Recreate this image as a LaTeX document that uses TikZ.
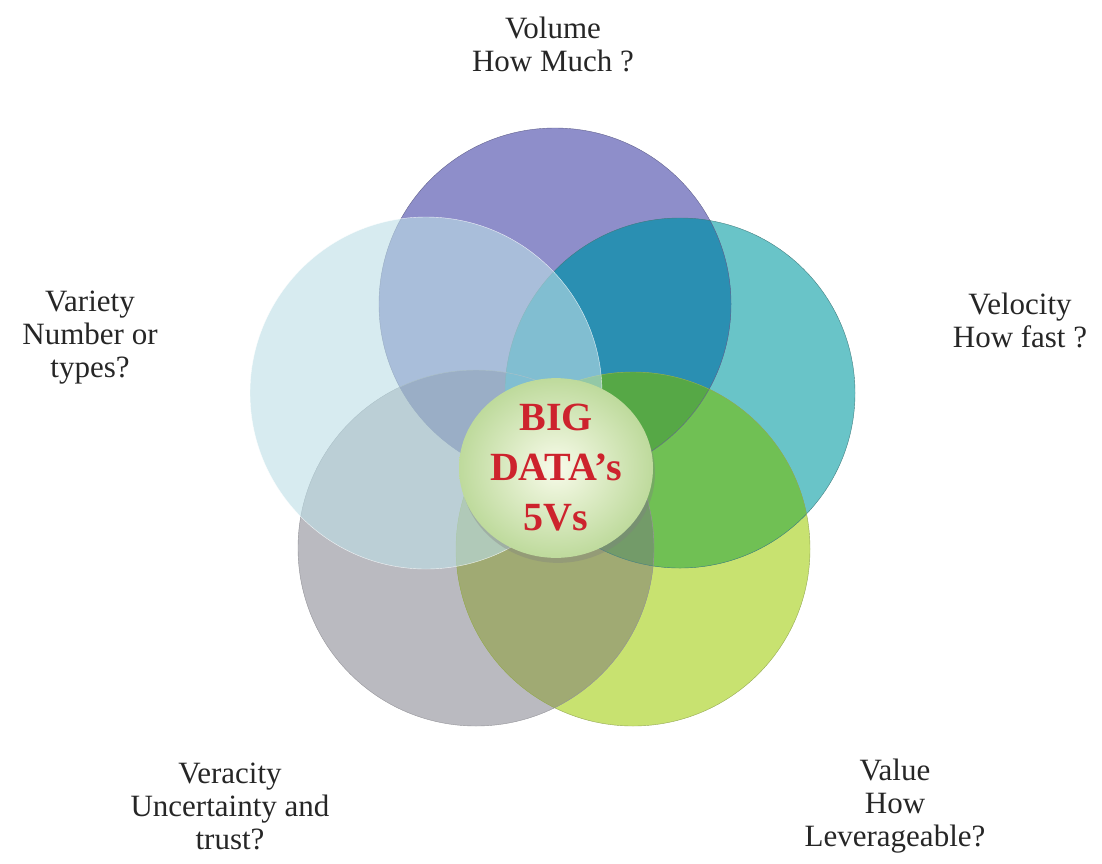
\documentclass[tikz,border=0pt]{standalone}
\usepackage{fontspec}
\setmainfont{Liberation Serif}
\usetikzlibrary{shapes.geometric,shadows}

\definecolor{volumecol}{RGB}{142,142,202}
\definecolor{velocitycol}{RGB}{105,196,200}
\definecolor{valuecol}{RGB}{200,226,112}
\definecolor{veracitycol}{RGB}{186,186,192}
\definecolor{varietycol}{RGB}{188,222,230}
\definecolor{volvelcol}{RGB}{42,143,178}
\definecolor{velvalcol}{RGB}{112,192,84}
\definecolor{volvelvalcol}{RGB}{86,168,70}
\definecolor{valvercol}{RGB}{160,170,115}
\definecolor{velvalvercol}{RGB}{115,155,105}
\definecolor{corein}{RGB}{248,251,234}
\definecolor{coreout}{RGB}{190,218,156}
\definecolor{corered}{RGB}{205,35,45}

\begin{document}
\begin{tikzpicture}
[x=1pt,y=-1pt,every node/.style={inner sep=0pt}]\tikzstyle{vring}
=[circle,minimum size=352pt]
\tikzstyle{vlabel}=[align=center,text=black!85,font=\fontsize{31}{33}\selectfont]
\useasboundingbox (0,0) rectangle (1102,863);

% the five circles
\begin{scope}[blend mode=multiply]
\node[vring,fill=volumecol] (volume) at (555,304) {};
\node[vring,minimum size=350pt,fill=velocitycol] (velocity) at (680,393) {};
\node[vring,minimum size=354pt,fill=valuecol] (value) at (633,549) {};
\node[vring,minimum size=356pt,fill=veracitycol] (veracity) at (476,548) {};
\end{scope}

% overlaps
\begin{scope}
\clip (volume.center) circle[radius=176];
\fill[volvelcol] (velocity.center) circle[radius=175];
\end{scope}
\begin{scope}
\clip (velocity.center) circle[radius=175];
\fill[velvalcol] (value.center) circle[radius=177];
\clip (value.center) circle[radius=177];
\fill[volvelvalcol] (volume.center) circle[radius=176];
\end{scope}
\begin{scope}
\clip (veracity.center) circle[radius=178];
\fill[valvercol] (value.center) circle[radius=177];
\clip (value.center) circle[radius=177];
\fill[velvalvercol] (velocity.center) circle[radius=175];
\end{scope}

\draw[volumecol!70!black] (volume.center) circle[radius=176];
\draw[velocitycol!65!black] (velocity.center) circle[radius=175];
\draw[valuecol!75!black] (value.center) circle[radius=177];
\draw[veracitycol!80!black] (veracity.center) circle[radius=178];
\node[vring,fill=varietycol,fill opacity=0.6,draw=white,draw opacity=0.8] (variety) at (426,393) {};

% centre
\node[ellipse,minimum width=194pt,minimum height=162pt,inner color=corein,outer color=coreout,
  drop shadow={shadow xshift=2pt,shadow yshift=-5pt,opacity=0.35},
  align=center,text=corered,font=\bfseries\fontsize{40}{50}\selectfont] (core) at (556,468)
  {BIG\\DATA’s\\5Vs};

% labels
\node[vlabel] (volumetxt) at (553,44) {Volume\\How Much ?};
\node[vlabel] (velocitytxt) at (1020,320) {Velocity\\How fast ?};
\node[vlabel] (varietytxt) at (90,338) {Variety\\Number or\\types?};
\node[vlabel] (veracitytxt) at (230,806) {Veracity\\Uncertainty and\\trust?};
\node[vlabel] (valuetxt) at (895,806) {Value\\How\\Leverageable?};
\end{tikzpicture}
\end{document}
